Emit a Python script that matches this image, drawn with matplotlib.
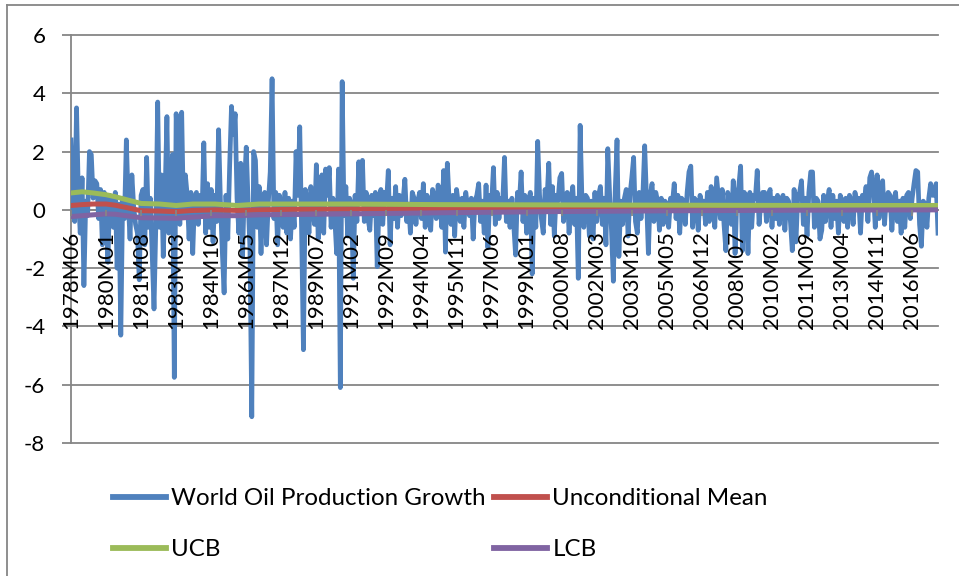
import matplotlib
matplotlib.use("Agg")
import matplotlib.pyplot as plt
from matplotlib.lines import Line2D

# monthly world oil production growth, 1978M06 .. 2017M08
growth = [
    2.4, 0.2, -0.4, 3.5, 0.5, -0.8, 1.1, -2.6, 0.3, -0.2, 2.0, 1.9,
    0.4, 1.0, 0.9, -0.3, 0.7, -1.2, 0.6, 0.3, -1.8, 0.5, 0.4, -0.6,
    0.6, -2.0, 0.2, -4.3, 0.4, -0.3, 2.4, 0.3, -1.0, 1.2, 0.1, -0.5,
    -0.8, -2.4, 0.5, 0.7, -1.2, 1.8, -0.6, 0.4, -1.5, -3.4, -0.5, 3.7,
    -0.6, 1.2, -1.6, 0.5, 3.2, -0.8, 0.5, 1.9, -5.75, 3.3, 1.8, -0.5,
    3.35, -0.2, 1.2, 0.5, -1.0, 0.6, -1.5, 0.4, 0.6, -0.5, 0.5, -0.2,
    2.3, -0.8, 0.9, -0.6, 0.7, -1.1, 0.5, -0.4, 2.75, 0.3, -1.4, -2.85,
    0.5, -1.0, 1.5, 3.55, 2.6, 3.3, 0.4, -0.8, 1.6, -1.6, 0.8, 2.15,
    0.3, -1.3, -7.1, 2.0, 1.7, -0.6, 0.8, -1.5, 0.4, 0.6, -1.2, 0.3,
    1.3, 4.5, -0.3, 0.6, -1.2, 0.5, 0.2, -0.6, 0.6, -0.8, 0.4, -1.0,
    0.3, -0.6, 2.0, 0.5, 2.85, -0.7, -4.8, 0.7, 0.3, -0.8, 0.8, 0.2,
    -0.5, 1.55, -1.0, 0.7, 1.2, -0.8, 1.4, 0.5, 1.45, -0.6, 0.4, -0.3,
    -1.5, 1.4, -6.1, 4.4, -0.2, 0.8, -0.9, 0.4, 0.2, -2.35, 0.5, -0.4,
    1.65, 0.3, 1.7, -0.4, 0.6, -0.3, -0.7, 0.5, -0.2, 0.6, -1.95, 0.3,
    0.7, -0.5, 0.6, 0.2, 1.35, -1.2, 0.4, -0.3, 0.8, -0.6, 0.5, -0.2,
    0.3, 1.05, -0.4, 0.2, -0.8, 0.6, 0.4, -0.5, 0.3, 0.6, -0.3, 0.9,
    -0.6, 0.5, 0.2, -0.7, 0.7, 0.4, -0.3, 0.85, 0.3, -0.6, 1.35, -1.45,
    1.6, 0.3, -0.5, 0.5, -0.9, 0.7, 0.2, -0.4, 0.4, -0.6, 0.6, 0.1,
    -0.2, 0.4, -1.0, 0.3, 0.5, 0.9, -0.4, 0.3, -0.8, 0.85, -1.3, 0.5,
    0.2, 1.45, -0.5, 0.6, -0.3, 0.4, 0.2, 1.8, -0.4, 0.3, -0.6, 0.4,
    -0.5, -1.55, 0.6, 0.2, 1.3, -0.4, 0.5, -0.8, 0.3, 0.6, -2.2, 0.4,
    -0.6, 2.35, 0.5, -0.3, -0.8, 0.7, 0.3, 1.6, -0.5, 0.8, -0.9, 0.5,
    0.3, 1.1, 1.25, -0.4, 0.5, 0.6, -0.8, 0.3, 0.8, -0.5, 0.4, -2.35,
    2.9, 0.3, -0.6, 0.5, 0.4, -0.9, 0.3, -1.0, 0.6, -0.4, 0.5, 0.8,
    -0.5, 0.4, -1.2, 2.1, 0.5, -0.7, -2.45, 0.6, 2.4, -1.6, 0.3, -0.5,
    0.4, 0.7, -0.9, 0.5, 1.1, 1.8, -0.4, -0.8, 0.6, -0.3, 0.5, 2.2,
    0.3, -1.5, 0.5, 0.9, -0.4, 0.6, 0.3, -0.7, 0.4, -0.5, 0.3, 0.2,
    -0.6, 0.4, 0.2, 0.9, -0.3, 0.5, -0.8, 0.4, 0.3, -0.5, 0.6, 1.3,
    1.5, -0.6, 0.4, 0.3, -0.7, 0.5, 0.2, 0.3, -0.5, 0.6, -0.4, 0.8,
    0.5, -0.6, 1.1, 0.4, -0.3, 0.7, -0.5, -1.4, 0.6, 0.3, -0.5, 1.0,
    -1.5, 0.5, 0.8, 1.5, -1.4, 0.6, 0.3, -1.5, 0.6, -0.6, 0.5, 0.4,
    1.35, -0.5, 0.3, 0.6, 0.6, -0.4, 0.5, 0.7, -0.6, 0.4, -0.3, 0.5,
    -0.5, 0.3, 0.5, -0.7, 0.4, 0.3, -0.4, -1.4, 0.7, -1.1, 0.5, 0.6,
    1.0, -0.5, 0.4, -0.9, 0.6, 1.3, 1.3, -0.6, 0.4, 0.3, -1.0, -0.7,
    0.5, -0.4, 0.3, 0.7, -0.6, 0.5, -0.3, 0.3, -0.8, 0.5, 0.3, -0.4,
    0.4, -0.6, 0.5, 0.3, -0.5, 0.6, 0.2, 0.4, -0.8, 0.5, 0.3, 0.8,
    -0.4, 1.1, 1.3, 0.6, -0.6, 1.2, -0.3, 0.5, 1.0, -0.5, 0.4, 0.6,
    0.5, -0.7, 0.3, 0.6, -0.4, 0.3, -0.8, 0.4, -0.6, 0.5, 0.6, -0.3,
    0.4, 0.9, 1.35, 1.3, -0.5, -1.25, 0.3, 0.2, -0.6, 0.4, 0.9, 0.5,
    0.5, 0.9, -0.8,
]

# mean and confidence bands, read at a handful of months
band_months = [0, 6, 12, 19, 24, 30, 38, 48, 57, 66, 78, 90, 102, 120, 150, 200, 260, 330, 400, 470]
ucb = [0.58, 0.62, 0.58, 0.52, 0.45, 0.35, 0.22, 0.20, 0.15, 0.20, 0.20, 0.15, 0.20, 0.20, 0.20, 0.18, 0.17, 0.16, 0.15, 0.15]
uncond_mean = [0.15, 0.18, 0.20, 0.20, 0.16, 0.08, -0.03, -0.04, -0.06, -0.02, 0.0, -0.02, 0.0, 0.02, 0.03, 0.04, 0.05, 0.06, 0.07, 0.07]
lcb = [-0.23, -0.20, -0.17, -0.14, -0.15, -0.20, -0.27, -0.28, -0.29, -0.25, -0.20, -0.20, -0.17, -0.16, -0.14, -0.10, -0.06, -0.03, -0.01, 0.0]

tick_labels = ['1978M06', '1980M01', '1981M08', '1983M03', '1984M10', '1986M05', '1987M12',
               '1989M07', '1991M02', '1992M09', '1994M04', '1995M11', '1997M06', '1999M01',
               '2000M08', '2002M03', '2003M10', '2005M05', '2006M12', '2008M07', '2010M02',
               '2011M09', '2013M04', '2014M11', '2016M06']
y_ticks = [-8, -6, -4, -2, 0, 2, 4, 6]

plt.rcParams['font.family'] = ['Lato', 'DejaVu Sans']
W, H = 959, 576
grey = '#868686'

fig = plt.figure(figsize=(W / 100, H / 100), dpi=100)
ax = fig.add_axes([71 / W, 1 - 443 / H, (938 - 71) / W, (443 - 35) / H])

# gridlines behind the series
for yv in y_ticks:
    ax.axhline(yv, color=grey, lw=1.3, zorder=0.5, clip_on=False)

months = range(len(growth))
l_growth, = ax.plot(months, growth, color='#4F81BD', lw=3.4, zorder=2, solid_joinstyle='round',
                    label='World Oil Production Growth')
l_mean, = ax.plot(band_months, uncond_mean, color='#C0504D', lw=3.6, zorder=2.1, label='Unconditional Mean')
l_ucb, = ax.plot(band_months, ucb, color='#9BBB59', lw=3.6, zorder=2.2, label='UCB')
l_lcb, = ax.plot(band_months, lcb, color='#8064A2', lw=3.6, zorder=2.3, label='LCB')

ax.set_xlim(0, len(growth) - 1)
ax.set_ylim(-8, 6)

for s in ['top', 'right']:
    ax.spines[s].set_visible(False)
ax.spines['bottom'].set_position(('data', 0))
ax.spines['bottom'].set_color(grey)
ax.spines['bottom'].set_linewidth(1.3)
ax.spines['bottom'].set_zorder(0.6)
ax.spines['left'].set_color(grey)
ax.spines['left'].set_linewidth(1.3)
ax.spines['left'].set_zorder(0.6)

ax.set_yticks(y_ticks)
ax.set_yticklabels([str(v) for v in y_ticks])
ax.tick_params(axis='y', length=6.5, width=1.3, color=grey, pad=12, labelsize=16)

ax.set_xticks(range(0, 19 * len(tick_labels), 19))
ax.set_xticklabels(tick_labels, rotation=90)
ax.tick_params(axis='x', length=4, width=1.3, color=grey, pad=11, labelsize=16)
ax.xaxis.set_zorder(4)

# chart area border (only left and top show in the crop)
fig.add_artist(Line2D([7 / W, 7 / W], [0, 1 - 5 / H], color=grey, lw=1.3))
fig.add_artist(Line2D([7 / W, 1], [1 - 5 / H, 1 - 5 / H], color=grey, lw=1.3))

# legend fills column by column, so order gives rows: growth/mean, ucb/lcb
leg = fig.legend(handles=[l_growth, l_ucb, l_mean, l_lcb], loc='upper left',
                 bbox_to_anchor=(113 / W, 1 - 488 / H), ncol=2, frameon=False,
                 fontsize=17.4, handlelength=2.2, handletextpad=0.22, columnspacing=0.33,
                 labelspacing=1.24, borderpad=0, borderaxespad=0)
for h in leg.legend_handles:
    h.set_linewidth(4.2)

fig.savefig('out.png', dpi=100)
